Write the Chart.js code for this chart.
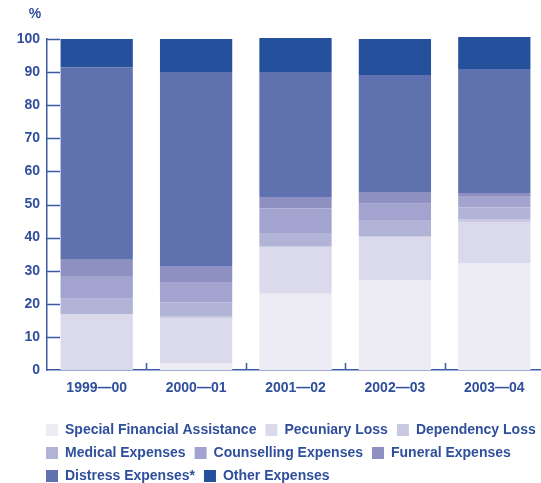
<!DOCTYPE html>
<html>
<head>
<meta charset="utf-8">
<script src="https://cdn.jsdelivr.net/npm/chart.js@4"></script>
<style>
  html, body { margin: 0; padding: 0; background: #fff; overflow: hidden; }
  #caja { position: absolute; left: 0; top: 0; width: 544px; height: 493px; }
</style>
</head>
<body>
<div id="caja"><canvas id="graficaGastos"></canvas></div>
<script>
const categorias = ["1999\u201400", "2000\u201401", "2001\u201402", "2002\u201403", "2003\u201404"];
const ticksY = [0, 10, 20, 30, 40, 50, 60, 70, 80, 90, 100];

// porcentajes, de abajo hacia arriba
const specialFinancial = [0, 2.1, 23.0, 27.2, 32.3];
const pecuniaryLoss = [16.9, 13.6, 14.2, 12.9, 12.4];
const dependencyLoss = [0, 0.4, 0, 0.4, 0.9];
const medicalExpenses = [4.6, 4.4, 4.2, 4.8, 3.6];
const counsellingExpenses = [6.9, 6.1, 7.5, 4.9, 3.4];
const funeralExpenses = [4.9, 4.8, 3.4, 3.6, 0.9];
const distressExpenses = [58.2, 58.6, 37.7, 35.3, 37.4];
const otherExpenses = [8.5, 10.0, 10.3, 10.9, 9.7];

const azulTexto = '#2f4f9c';
const azulEje = '#3b5ba5';
const fuente = "'Liberation Sans', Arial, sans-serif";

document.addEventListener("DOMContentLoaded", function(event) {
    GraficoGastos();
});

function GraficoGastos(){
const ctx = document.getElementById('graficaGastos');

const serie = (label, data, color) => ({
    label: label,
    data: data,
    backgroundColor: color,
    borderWidth: 0,
    barPercentage: 0.727,
    categoryPercentage: 1,
    clip: false,
});

const data = {
    labels: categorias,
    datasets: [
        serie("Special Financial Assistance", specialFinancial, '#edecf5'),
        serie("Pecuniary Loss", pecuniaryLoss, '#dbdaec'),
        serie("Dependency Loss", dependencyLoss, '#c9cae2'),
        serie("Medical Expenses", medicalExpenses, '#b2b4d7'),
        serie("Counselling Expenses", counsellingExpenses, '#a2a4cf'),
        serie("Funeral Expenses", funeralExpenses, '#8e90c1'),
        serie("Distress Expenses*", distressExpenses, '#5f71ae'),
        serie("Other Expenses", otherExpenses, '#25509c'),
    ]
};

// marcas de los ejes hacia dentro, el "%" y la leyenda corrida a la derecha
const plugin = {
    id: 'detalles_ejes',
    afterLayout: (chart) => {
        chart.legend.left = 37;
        chart.legend.right = 600;
    },
    afterDraw: (chart) => {
        const c = chart.ctx;
        const area = chart.chartArea;
        const x = chart.scales.x;
        const y = chart.scales.y;
        c.save();
        c.strokeStyle = azulEje;
        c.lineWidth = 1.5;
        c.beginPath();
        ticksY.forEach(v => {
            if (v === 0) return;
            const py = Math.round(y.getPixelForValue(v)) + 0.5;
            c.moveTo(area.left, py);
            c.lineTo(area.left + 13, py);
        });
        for (let i = 0; i < categorias.length - 1; i++) {
            const px = Math.round((x.getPixelForValue(i) + x.getPixelForValue(i + 1)) / 2) + 0.5;
            c.moveTo(px, area.bottom);
            c.lineTo(px, area.bottom - 7);
        }
        c.stroke();
        c.fillStyle = azulTexto;
        c.font = "bold 14px " + fuente;
        c.textAlign = 'center';
        c.textBaseline = 'middle';
        c.fillText('%', 35, 14);
        c.restore();
    }
};

const myChart = new Chart(ctx, {
    type: 'bar',
    data: data,
    plugins: [plugin],
    options: {
        responsive: true,
        maintainAspectRatio: false,
        animation: false,
        layout: { padding: { top: 39, right: 0, left: 0, bottom: 0 } },
        scales: {
            x: {
                stacked: true,
                grid: { display: false, drawTicks: false },
                border: { display: true, color: azulEje, width: 1.5 },
                ticks: { color: azulTexto, font: { family: fuente, size: 14, weight: 'bold' }, padding: 10 },
                afterFit: (scale) => { scale.height = 44; }
            },
            y: {
                stacked: true,
                min: 0,
                max: 100,
                grid: { display: false, drawTicks: false },
                border: { display: true, color: azulEje, width: 1.5 },
                ticks: {
                    stepSize: 10,
                    color: azulTexto,
                    font: { family: fuente, size: 14, weight: 'bold' },
                    padding: 7
                },
                afterFit: (scale) => { scale.width = 47; }
            }
        },
        plugins: {
            tooltip: { enabled: false },
            legend: {
                position: 'bottom',
                align: 'start',
                labels: {
                    boxWidth: 12,
                    boxHeight: 12,
                    padding: 9,
                    color: azulTexto,
                    font: { family: fuente, size: 14, weight: 'bold' }
                }
            }
        }
    }
});
};
</script>
</body>
</html>
